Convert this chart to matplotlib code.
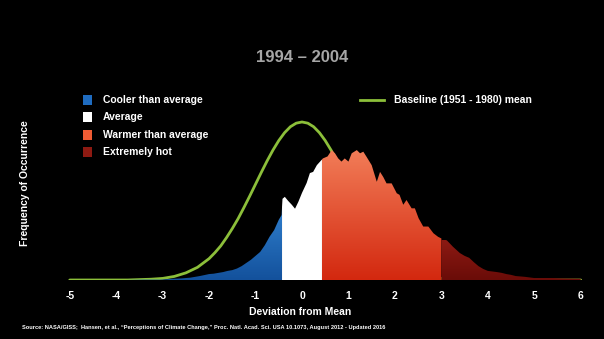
import matplotlib
matplotlib.use("Agg")
import matplotlib.pyplot as plt
import numpy as np
from matplotlib.colors import LinearSegmentedColormap
from matplotlib.lines import Line2D
from matplotlib.patches import Rectangle

plt.rcParams["font.family"] = ["Liberation Sans", "DejaVu Sans"]
plt.rcParams["axes.unicode_minus"] = False

# baseline (1951-1980) curve
base_x = [-5.0, -4.5, -4.0, -3.75, -3.5, -3.25, -3.0, -2.75, -2.5, -2.25, -2.0, -1.875,
          -1.75, -1.625, -1.5, -1.375, -1.25, -1.125, -1.0, -0.875, -0.75, -0.625, -0.5,
          -0.375, -0.25, -0.125, 0.0, 0.125, 0.25, 0.375, 0.5, 0.625, 0.75, 0.875, 1.0,
          1.125, 1.25, 1.375, 1.5, 1.625, 1.75, 1.875, 2.0, 2.25, 2.5, 2.75, 3.0, 3.25,
          3.5, 3.75, 4.0, 4.5, 5.0, 5.5, 6.0]
base_y = [0.0, 0.0, 0.0, 0.0, 0.001, 0.002, 0.004, 0.009, 0.018, 0.032, 0.054, 0.069,
          0.086, 0.107, 0.130, 0.155, 0.183, 0.212, 0.242, 0.272, 0.301, 0.328, 0.352,
          0.372, 0.387, 0.396, 0.399, 0.396, 0.387, 0.372, 0.352, 0.328, 0.301, 0.272, 0.242,
          0.212, 0.183, 0.155, 0.130, 0.107, 0.086, 0.069, 0.054, 0.032, 0.018, 0.009, 0.004, 0.002,
          0.001, 0.0, 0.0, 0.0, 0.0, 0.0, 0.0]

# 1994-2004 distribution
hist_x = [-3.8, -3.4, -3.0, -2.8, -2.6, -2.4, -2.2, -2.0, -1.9, -1.8, -1.7, -1.6, -1.5,
          -1.4, -1.3, -1.2, -1.1, -1.0, -0.9, -0.8, -0.7, -0.6, -0.5, -0.44,
          -0.42, -0.37, -0.3, -0.22, -0.15, -0.08, 0.0, 0.1, 0.17, 0.24, 0.32, 0.42,
          0.45, 0.55, 0.64, 0.71, 0.78, 0.85, 0.92, 1.0, 1.07, 1.18, 1.25, 1.32, 1.39,
          1.5, 1.61, 1.68, 1.75, 1.82, 1.93, 2.04, 2.1, 2.18, 2.25, 2.36, 2.43, 2.51,
          2.61, 2.72, 2.83, 2.93, 3.0, 3.12, 3.25, 3.4, 3.5, 3.6, 3.7, 3.8, 3.9, 4.0,
          4.2, 4.3, 4.4, 4.5, 4.6, 4.8, 5.0, 5.4, 5.6, 6.0]
hist_y = [0.0, 0.001, 0.001, 0.003, 0.004, 0.006, 0.010, 0.015, 0.016, 0.018, 0.020, 0.023, 0.025,
          0.029, 0.035, 0.043, 0.051, 0.061, 0.071, 0.088, 0.109, 0.126, 0.152, 0.164,
          0.205, 0.210, 0.200, 0.190, 0.180, 0.197, 0.220, 0.245, 0.270, 0.273, 0.290, 0.303,
          0.307, 0.312, 0.328, 0.320, 0.307, 0.299, 0.307, 0.299, 0.320, 0.328, 0.320, 0.324, 0.311,
          0.290, 0.248, 0.273, 0.260, 0.244, 0.244, 0.219, 0.215, 0.190, 0.202, 0.181, 0.181, 0.156,
          0.135, 0.135, 0.118, 0.109, 0.105, 0.100, 0.084, 0.068, 0.061, 0.056, 0.045, 0.035, 0.028, 0.023,
          0.020, 0.018, 0.015, 0.013, 0.010, 0.008, 0.005, 0.005, 0.004, 0.003]

# category limits (standard deviations)
cool_edge = -0.43
warm_edge = 0.43
hot_edge = 3.0

tick_values = [-5, -4, -3, -2, -1, 0, 1, 2, 3, 4, 5, 6]
tick_labels = ["-5", "-4", "-3", "-2", "-1", "0", "1", "2", "3", "4", "5", "6"]

W, H = 604, 339


def fx(px):
    return px / W


def fy(py):
    return 1 - py / H


def segment(lo, hi):
    x = np.asarray(hist_x)
    y = np.asarray(hist_y)
    inner = (x > lo) & (x < hi)
    xs = np.concatenate([[lo], x[inner], [hi]])
    ys = np.concatenate([[np.interp(lo, x, y)], y[inner], [np.interp(hi, x, y)]])
    return xs, ys


def gradient_fill(ax, xs, ys, top, bottom, ytop=0.33, z=3):
    poly = ax.fill_between(xs, 0, ys, facecolor="none", edgecolor="none", zorder=z)
    cmap = LinearSegmentedColormap.from_list("g", [bottom, top])
    grad = np.linspace(0, 1, 256).reshape(-1, 1)
    im = ax.imshow(grad, cmap=cmap, aspect="auto", origin="lower",
                   extent=[xs[0], xs[-1], 0, ytop], zorder=z, interpolation="bilinear")
    im.set_clip_path(poly.get_paths()[0], transform=ax.transData)


fig = plt.figure(figsize=(W / 100, H / 100), dpi=100)
fig.patch.set_facecolor("black")

unit = 46.45  # px per std
zero_px = 302
x_lo, x_hi = -5.1, 6.1
y_top = 0.5
ppx = 0.002525  # data units per pixel vertically
left = zero_px + x_lo * unit
right = zero_px + x_hi * unit
ax = fig.add_axes([fx(left), fy(280), (right - left) / W, (y_top / ppx) / H])
ax.set_facecolor("black")

ax.plot(base_x, base_y, color="#8cbf3a", lw=2.0, zorder=2, solid_capstyle="round")

xs, ys = segment(hist_x[0], cool_edge)
gradient_fill(ax, xs, ys, "#3384d2", "#13519c", ytop=0.2)
xs, ys = segment(cool_edge, warm_edge)
ax.fill_between(xs, 0, ys, facecolor="white", edgecolor="none", zorder=3)
xs, ys = segment(warm_edge, hot_edge)
gradient_fill(ax, xs, ys, "#f27d58", "#d3280f", ytop=0.33)
xs, ys = segment(hot_edge, hist_x[-1])
gradient_fill(ax, xs, ys, "#8c1a13", "#6a0c08", ytop=0.1)

ax.set_xlim(x_lo, x_hi)
ax.set_ylim(0, y_top)
ax.set_yticks([])
ax.set_xticks(tick_values)
ax.set_xticklabels(tick_labels)
ax.tick_params(axis="x", length=0, pad=8, labelsize=7.5, labelcolor="white")
for lab in ax.get_xticklabels():
    lab.set_fontweight("bold")
for s in ax.spines.values():
    s.set_visible(False)

fig.text(0.5, fy(58), "1994 \u2013 2004", ha="center", va="center", fontsize=12,
         fontweight="bold", color="#a6a6a6")

# left legend
legend_items = [("Cooler than average", "#1f6cc0", 100),
                ("Average", "white", 117),
                ("Warmer than average", "#ef5c34", 135),
                ("Extremely hot", "#8e1a12", 152)]
for label, col, py in legend_items:
    fig.add_artist(Rectangle((fx(83), fy(py + 5)), 9 / W, 10 / H, transform=fig.transFigure,
                             facecolor=col, edgecolor="none"))
    fig.text(fx(103), fy(py), label, ha="left", va="center", fontsize=7.5,
             fontweight="bold", color="white")

# baseline legend
fig.add_artist(Line2D([fx(360), fx(384)], [fy(100), fy(100)], transform=fig.transFigure,
                      color="#8cbf3a", lw=2.0))
fig.text(fx(394), fy(100), "Baseline (1951 - 1980) mean", ha="left", va="center",
         fontsize=7.5, fontweight="bold", color="white")

fig.text(fx(25), fy(183), "Frequency of Occurrence", rotation=90, ha="center", va="center",
         fontsize=7.5, fontweight="bold", color="white")
fig.text(fx(300), fy(312), "Deviation from Mean", ha="center", va="center",
         fontsize=7.5, fontweight="bold", color="white")
fig.text(fx(22), fy(327),
         "Source: NASA/GISS;  Hansen, et al., \u201cPerceptions of Climate Change,\u201d Proc. Natl. Acad. Sci. USA 10.1073, August 2012 - Updated 2016",
         ha="left", va="center", fontsize=4.1, fontweight="bold", color="white")

fig.savefig("out.png", dpi=100, facecolor="black")
